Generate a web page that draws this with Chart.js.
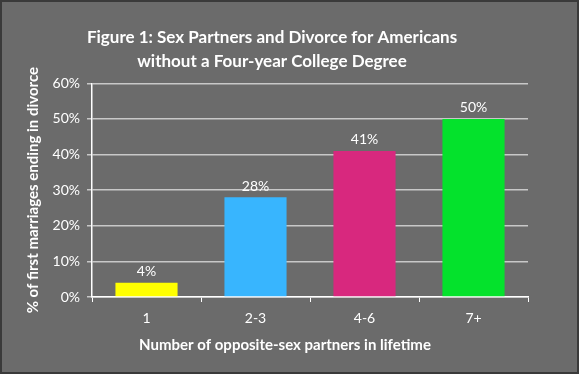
<!DOCTYPE html>
<html>
<head>
<meta charset="utf-8">
<script src="https://cdn.jsdelivr.net/npm/chart.js@4"></script>
<style>
  html, body { margin: 0; padding: 0; background: #6b6b6b; }
  #wrap { width: 579px; height: 374px; box-sizing: border-box; border: 2px solid #3a3a3a; position: relative; }
  canvas { display: block; }
</style>
</head>
<body>
<div id="wrap"><canvas id="myChart" width="575" height="370"></canvas></div>
<script>
const categories = ['1', '2-3', '4-6', '7+'];
const divorceRates = [4, 28, 41, 50];
const barColors = ['#ffff00', '#38b5fe', '#d8287e', '#04e22c'];
const yTicks = [0, 10, 20, 30, 40, 50, 60];

const FONT = 'Lato, "Open Sans", sans-serif';

// étiquettes au-dessus des barres
const barLabels = {
    id: 'barLabels',
    afterDatasetsDraw(chart) {
        const ctx = chart.ctx;
        const meta = chart.getDatasetMeta(0);
        ctx.save();
        ctx.fillStyle = '#ffffff';
        ctx.font = '14px ' + FONT;
        ctx.textAlign = 'center';
        ctx.textBaseline = 'bottom';
        meta.data.forEach((bar, i) => {
            ctx.fillText(divorceRates[i] + '%', bar.x, bar.y - 4);
        });
        ctx.restore();
    }
};

// titre de l'axe x, centré comme dans l'original
const xAxisTitle = {
    id: 'xAxisTitle',
    afterDraw(chart) {
        const ctx = chart.ctx;
        ctx.save();
        ctx.fillStyle = '#ffffff';
        ctx.font = 'bold 15px ' + FONT;
        ctx.textAlign = 'center';
        ctx.textBaseline = 'middle';
        ctx.fillText('Number of opposite-sex partners in lifetime', 283, 343);
        ctx.restore();
    }
};

const ctx = document.getElementById('myChart').getContext('2d');
new Chart(ctx, {
    type: 'bar',
    data: {
        labels: categories,
        datasets: [{
            data: divorceRates,
            backgroundColor: barColors,
            barPercentage: 0.57,
            categoryPercentage: 1
        }]
    },
    options: {
        responsive: false,
        animation: false,
        layout: { padding: { left: 14, right: 49, top: 23, bottom: 0 } },
        plugins: {
            legend: { display: false },
            tooltip: { enabled: false },
            title: {
                display: true,
                text: ['Figure 1: Sex Partners and Divorce for Americans', 'without a Four-year College Degree'],
                color: '#ffffff',
                font: { family: FONT, size: 17, weight: 'bold', lineHeight: 1.45 },
                padding: { top: 0, bottom: 9 }
            }
        },
        scales: {
            x: {
                grid: { drawOnChartArea: false, drawTicks: true, tickLength: 5, tickColor: '#ffffff', offset: true },
                border: { color: '#ffffff', width: 1.5 },
                ticks: { color: '#ffffff', font: { family: FONT, size: 14 }, padding: 8 },
                afterFit(scale) { scale.height = 75; }
            },
            y: {
                min: 0,
                max: 60,
                afterBuildTicks(scale) { scale.ticks = yTicks.map(v => ({ value: v })); },
                grid: { color: '#c8c8c8', lineWidth: 1.5, tickLength: 5, tickColor: '#c8c8c8' },
                border: { color: '#ffffff', width: 1.5 },
                ticks: { color: '#ffffff', font: { family: FONT, size: 14 }, padding: 7, callback: v => v + '%' },
                title: {
                    display: true,
                    text: '% of first marriages ending in divorce',
                    color: '#ffffff',
                    font: { family: FONT, size: 15, weight: 'bold' },
                    padding: { top: 8, bottom: 0 }
                },
                afterFit(scale) { scale.width = 76; }
            }
        }
    },
    plugins: [barLabels, xAxisTitle]
});
</script>
</body>
</html>
